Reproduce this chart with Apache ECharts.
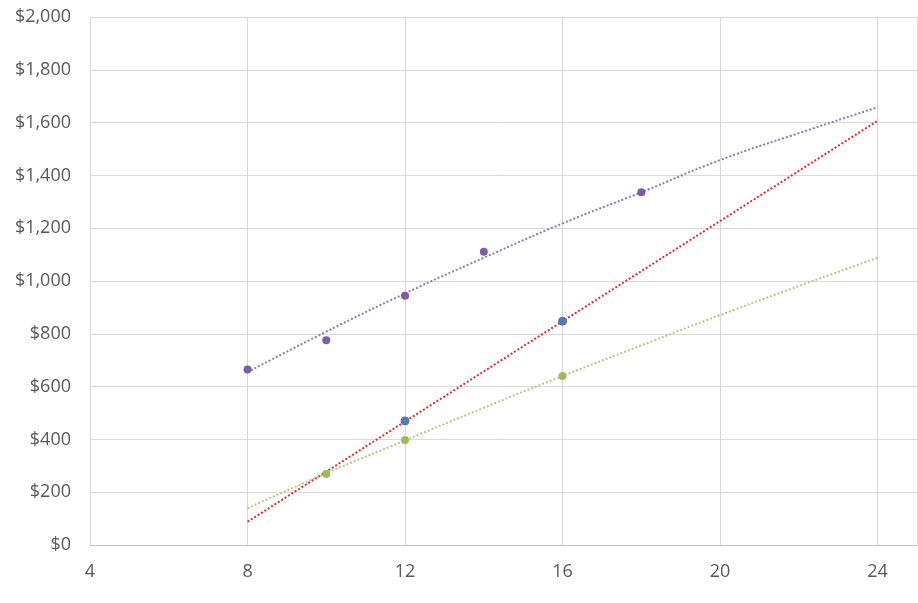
<!DOCTYPE html>
<html>
<head>
<meta charset="utf-8">
<script src="https://cdn.jsdelivr.net/npm/echarts@6/dist/echarts.min.js"></script>
<style>html,body{margin:0;padding:0;background:#fff}#c{width:918px;height:603px}</style>
</head>
<body>
<div id="c"></div>
<script>
// Scatter points
const purplePoints = [[8, 665], [10, 776], [12, 944], [14, 1111], [18, 1336]];
const bluePoints = [[12, 470], [16, 848]];
const greenPoints = [[10, 269], [12, 398], [16, 640]];
// Trend lines
const purpleTrend = [[8, 655], [10, 808], [12, 953], [14, 1088], [16, 1218], [18, 1336], [20, 1458], [22, 1560], [24, 1658]];
const redTrend = [[8, 88], [24, 1607]];
const greenTrend = [[8, 139], [10, 272], [12, 396], [14, 520], [16, 640], [18, 756], [20, 871], [22, 981], [24, 1088]];
// Axes
const xTicks = [4, 8, 12, 16, 20, 24];
const yMin = 0, yMax = 2000, yStep = 200;

const font = '"Open Sans", "Noto Sans", sans-serif';
const chart = echarts.init(document.getElementById('c'), null, {renderer: 'canvas'});
chart.setOption({
  animation: false,
  backgroundColor: '#ffffff',
  grid: {left: 90, right: 1, top: 17, bottom: 58, containLabel: false},
  xAxis: {
    type: 'value', min: 4, max: 25, interval: 4,
    axisLine: {show: true, lineStyle: {color: '#bfbfbf', width: 1}},
    axisTick: {show: false},
    splitLine: {show: true, lineStyle: {color: '#d9d9d9', width: 1}},
    axisLabel: {
      color: '#595959', fontFamily: font, fontSize: 18, margin: 18, showMaxLabel: false,
      formatter: v => xTicks.includes(v) ? String(v) : ''
    }
  },
  yAxis: {
    type: 'value', min: yMin, max: yMax, interval: yStep,
    axisLine: {show: false}, axisTick: {show: false},
    splitLine: {show: true, lineStyle: {color: '#d9d9d9', width: 1}},
    axisLabel: {
      color: '#595959', fontFamily: font, fontSize: 18, margin: 19,
      formatter: v => '$' + v.toLocaleString('en-US')
    }
  },
  series: [
    {type: 'line', data: purpleTrend, smooth: true, symbol: 'none', z: 2,
     lineStyle: {color: '#8a7bb8', width: 2, type: [2, 2]}},
    {type: 'line', data: redTrend, symbol: 'none', z: 2,
     lineStyle: {color: '#e8282e', width: 2, type: [2, 2]}},
    {type: 'line', data: greenTrend, smooth: true, symbol: 'none', z: 2,
     lineStyle: {color: '#b4c882', width: 2, type: [2, 2]}},
    {type: 'scatter', data: purplePoints, symbolSize: 8, z: 3,
     itemStyle: {color: '#7b5ea6', opacity: 1}},
    {type: 'scatter', data: bluePoints, symbolSize: 8, z: 3,
     itemStyle: {color: '#4a7ec0', borderColor: '#6a64a8', borderWidth: 1, opacity: 1}},
    {type: 'scatter', data: greenPoints, symbolSize: 8, z: 3,
     itemStyle: {color: '#9bbb59', opacity: 1}}
  ]
});
</script>
</body>
</html>
